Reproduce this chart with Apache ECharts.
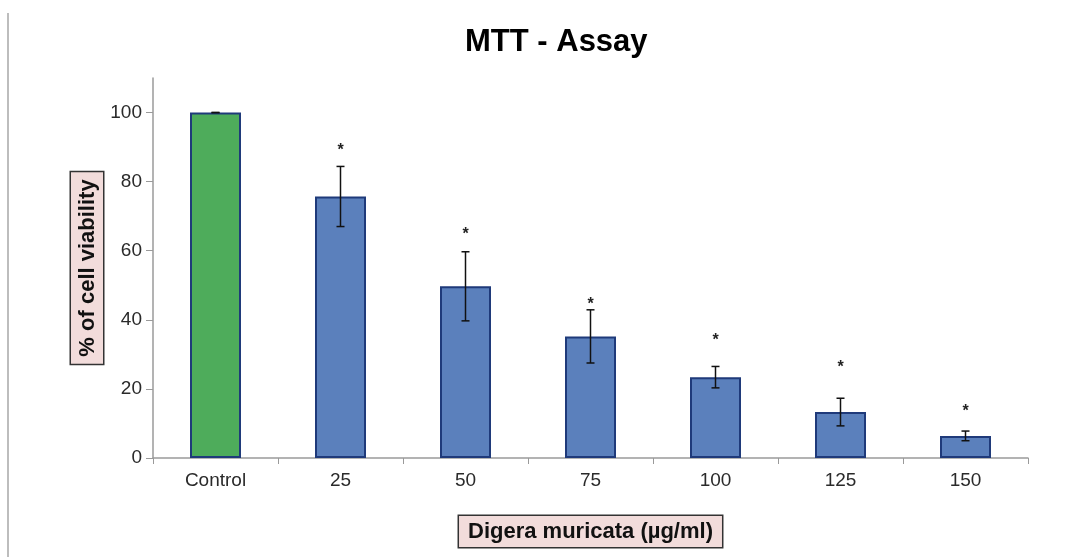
<!DOCTYPE html>
<html>
<head>
<meta charset="utf-8">
<script src="https://cdn.jsdelivr.net/npm/echarts@6/dist/echarts.min.js"></script>
<style>html,body{margin:0;padding:0;background:#fff;}#c{width:1081px;height:557px;}</style>
</head>
<body>
<div id="c"></div>
<script>
const categories = ['Control', '25', '50', '75', '100', '125', '150'];
const viability = [100, 75.7, 49.7, 35.2, 23.4, 13.3, 6.4];
const sd = [0, 8.7, 10.0, 7.7, 3.1, 4.0, 1.4];
const starLevel = [null, 90.2, 65.9, 45.5, 35.1, 27.2, 14.5];
const yTicks = [0, 20, 40, 60, 80, 100];

const chart = echarts.init(document.getElementById('c'));
const barData = viability.map((v, i) => ({
  value: v,
  itemStyle: { color: i === 0 ? '#4eac5b' : '#5b80bc' }
}));
const errData = viability.map((v, i) => [i, v - sd[i], v + sd[i], starLevel[i]]);
const FONT = 'Liberation Sans, Arial, Helvetica, sans-serif';

chart.setOption({
  backgroundColor: '#ffffff',
  animation: false,
  title: {
    text: 'MTT - Assay', left: 460, top: 22,
    textStyle: { fontFamily: FONT, fontWeight: 'bold', fontSize: 31, color: '#000' }
  },
  grid: { left: 153, right: 53, top: 78, bottom: 99 },
  xAxis: {
    type: 'category', data: categories,
    axisLine: { lineStyle: { color: '#9a9a9a', width: 1.5 } },
    axisTick: { show: true, alignWithLabel: false, length: 6, lineStyle: { color: '#9a9a9a' } },
    axisLabel: { color: '#2a2a2a', fontSize: 19, fontFamily: FONT, margin: 13 },
    name: 'Digera muricata (µg/ml)', nameLocation: 'middle', nameGap: 58,
    nameTextStyle: {
      fontFamily: FONT, fontWeight: 'bold', fontSize: 22, color: '#111',
      backgroundColor: '#f2dcdb', borderColor: '#333', borderWidth: 1.5, padding: [5, 9, 4, 9]
    }
  },
  yAxis: {
    type: 'value', min: 0, max: 110, interval: 20,
    axisLine: { show: true, lineStyle: { color: '#9a9a9a', width: 1.5 } },
    axisTick: { show: true, length: 7, lineStyle: { color: '#9a9a9a' }, customValues: yTicks },
    splitLine: { show: false },
    axisLabel: {
      color: '#2a2a2a', fontSize: 19, fontFamily: FONT, margin: 11,
      customValues: yTicks
    },
    name: '% of cell viability', nameLocation: 'middle', nameGap: 50, nameRotate: 90,
    nameMoveOverlap: false,
    nameTextStyle: {
      fontFamily: FONT, fontWeight: 'bold', fontSize: 22, color: '#111',
      backgroundColor: '#f2dcdb', borderColor: '#333', borderWidth: 1.5, padding: [6, 7, 4, 7]
    }
  },
  graphic: [{
    type: 'line', shape: { x1: 8, y1: 13, x2: 8, y2: 557 },
    style: { stroke: '#bdbdbd', lineWidth: 2 }
  }],
  series: [{
    type: 'bar', data: barData, barWidth: 51,
    itemStyle: { borderColor: '#1f3a7a', borderWidth: 2 }
  }, {
    type: 'custom', data: errData, z: 5,
    renderItem: function (params, api) {
      const x = api.coord([api.value(0), 0])[0];
      const lo = api.coord([api.value(0), api.value(1)])[1];
      const hi = api.coord([api.value(0), api.value(2)])[1];
      const cap = 4;
      const style = { stroke: '#111', lineWidth: 1.5 };
      const children = [
        { type: 'line', shape: { x1: x, y1: lo, x2: x, y2: hi }, style: style },
        { type: 'line', shape: { x1: x - cap, y1: lo, x2: x + cap, y2: lo }, style: style },
        { type: 'line', shape: { x1: x - cap, y1: hi, x2: x + cap, y2: hi }, style: style }
      ];
      const s = api.value(3);
      if (s !== null && !isNaN(s)) {
        const sy = api.coord([api.value(0), s])[1];
        children.push({
          type: 'text', x: x, y: sy + 4,
          style: { text: '*', fill: '#222', fontSize: 16, fontWeight: 'bold',
                   fontFamily: FONT, align: 'center', verticalAlign: 'middle' }
        });
      }
      return { type: 'group', children: children };
    }
  }]
});
</script>
</body>
</html>
